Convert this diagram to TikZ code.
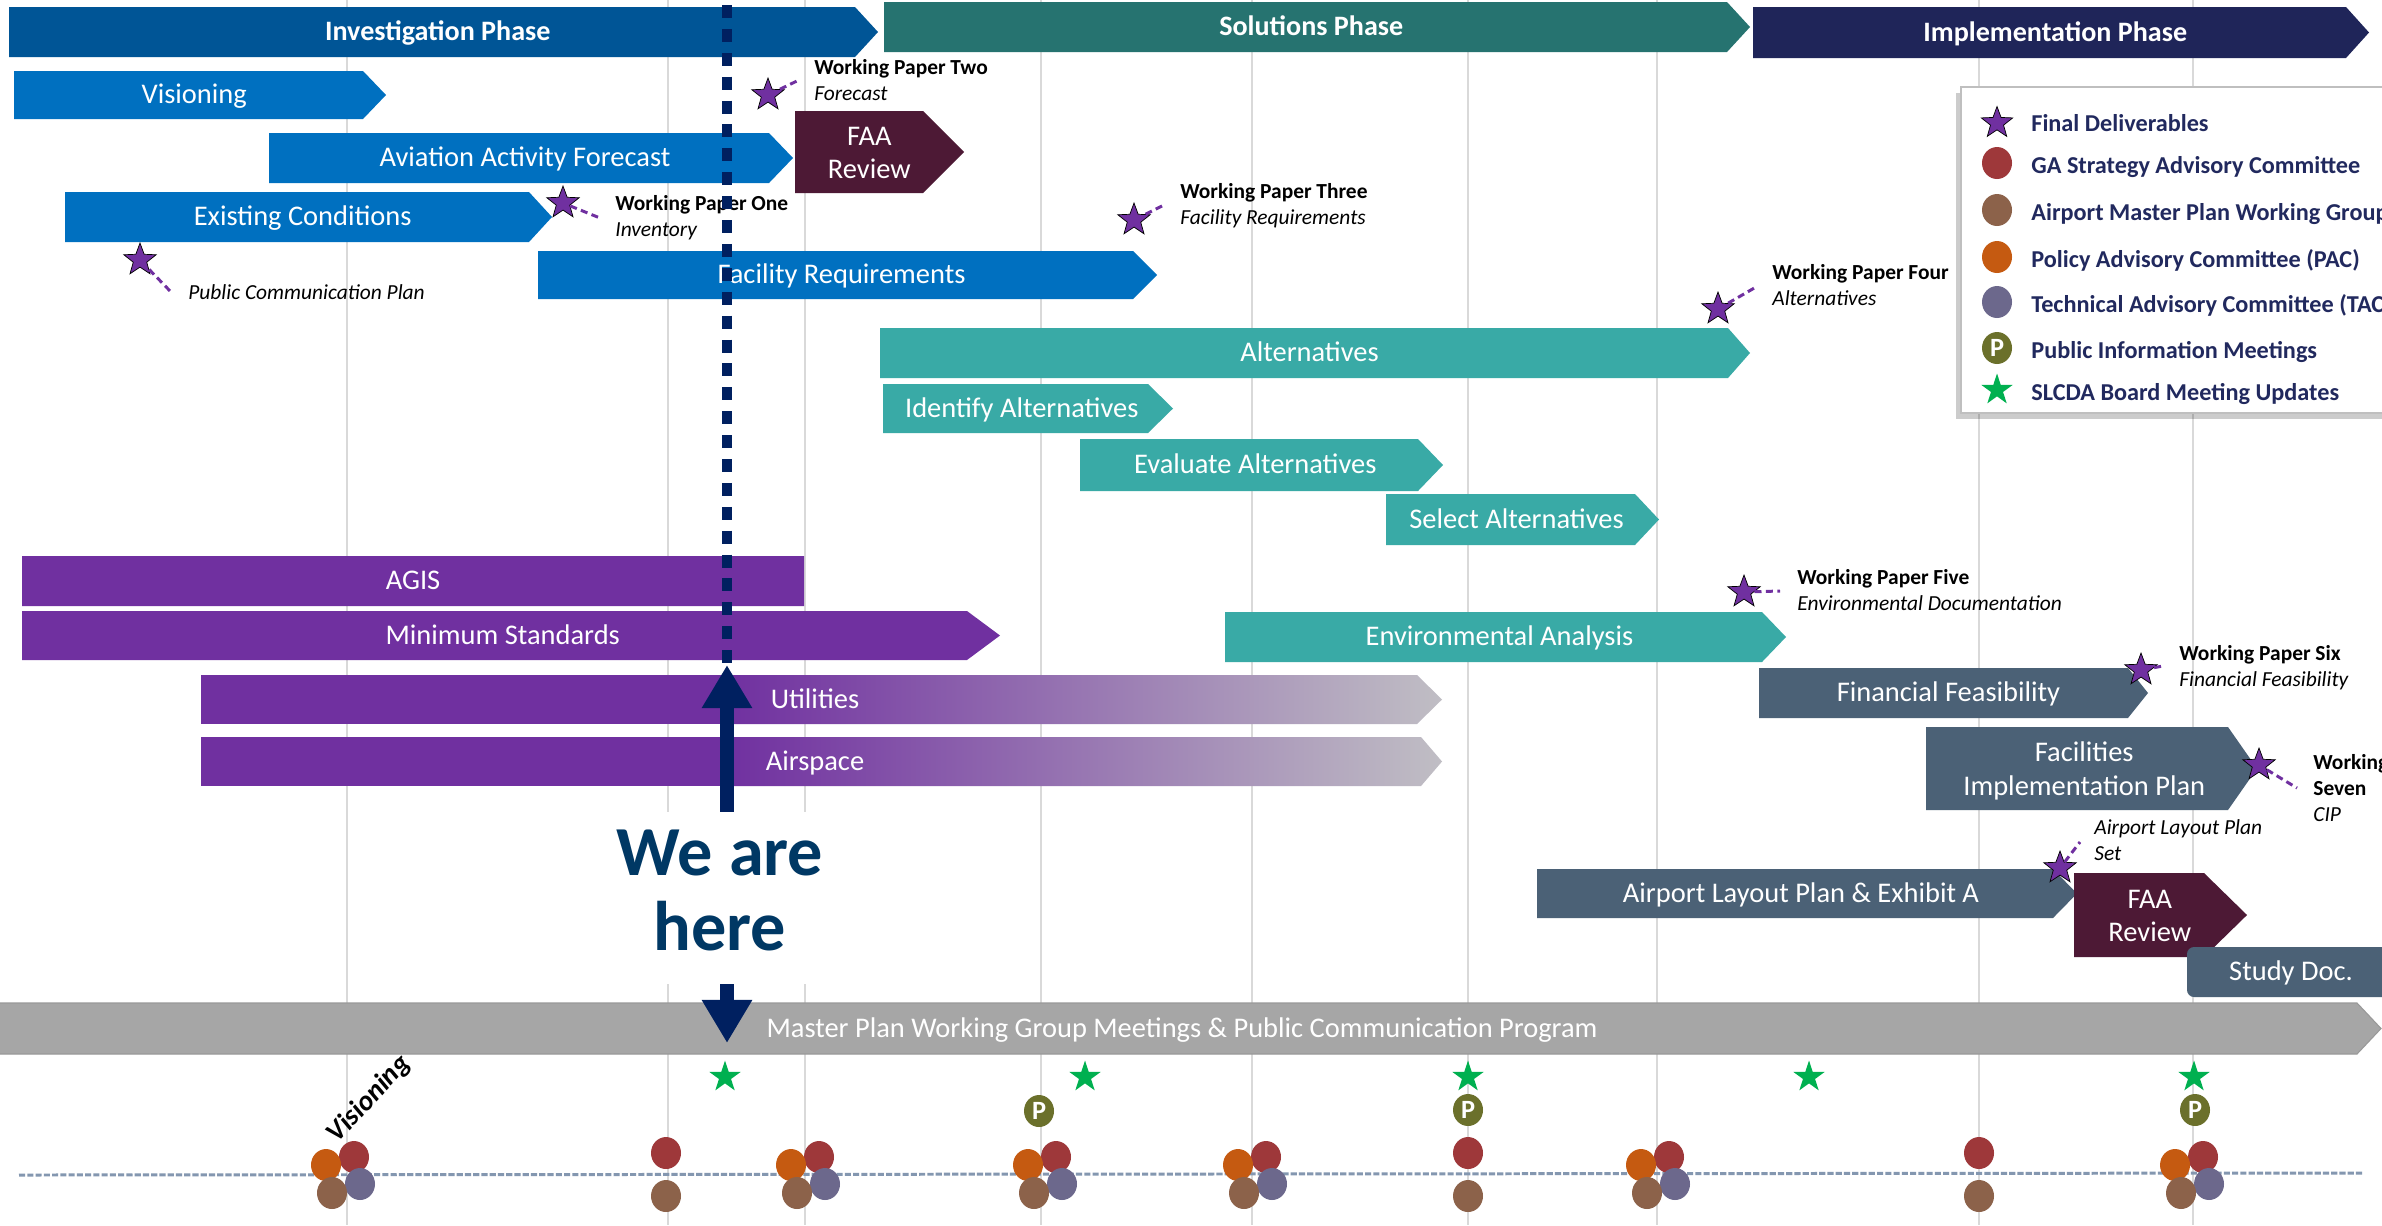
\documentclass[tikz,border=0pt]{standalone}
\usepackage{fontspec}
\setmainfont{Carlito}
\usetikzlibrary{shapes.geometric,arrows.meta}
\definecolor{invC}{RGB}{0,85,150}
\definecolor{solC}{RGB}{38,115,112}
\definecolor{impC}{RGB}{31,37,89}
\definecolor{blueC}{RGB}{0,112,192}
\definecolor{faaC}{RGB}{77,25,53}
\definecolor{tealC}{RGB}{57,170,166}
\definecolor{purC}{RGB}{112,48,160}
\definecolor{slateC}{RGB}{75,97,118}
\definecolor{mpC}{RGB}{166,166,166}
\definecolor{navyC}{RGB}{0,32,96}
\definecolor{hereC}{RGB}{0,56,100}
\definecolor{greenC}{RGB}{0,176,80}
\definecolor{gaC}{RGB}{158,56,58}
\definecolor{pacC}{RGB}{197,90,17}
\definecolor{ampC}{RGB}{140,98,74}
\definecolor{tacC}{RGB}{108,104,140}
\definecolor{pimC}{RGB}{107,112,43}
\definecolor{legC}{RGB}{33,41,94}
\definecolor{gridC}{RGB}{217,217,217}
\definecolor{dashC}{RGB}{132,151,176}
\definecolor{fadeC}{RGB}{192,190,196}
% name, fill style, x1, body end, tip x, y1, y2, text style, text
\newcommand\chev[9]{%
  \fill[#2] (#3,#6) -- (#4,#6) -- (#5,{(#6+#7)/2}) -- (#4,#7) -- (#3,#7) -- cycle;
  \node[#8] (#1) at ({(#3+(#4+#5)/2)/2},{(#6+#7)/2}) {#9};}
\newcommand\meetfour[2]{%
  \node[mtg,fill=gaC] (#1r) at (#2,1157) {};
  \node[mtg,fill=pacC] (#1o) at ({#2-28},1165) {};
  \node[mtg,fill=tacC] (#1t) at ({#2+6},1184) {};
  \node[mtg,fill=ampC] (#1b) at ({#2-22},1193) {};}
\newcommand\meettwo[2]{%
  \node[mtg,fill=gaC] (#1r) at (#2,1153) {};
  \node[mtg,fill=ampC] (#1b) at (#2,1196) {};}
\begin{document}
\begin{tikzpicture}[x=0.02cm,y=-0.02cm,
 bartext/.style={text=white,inner sep=0pt,font=\fontsize{16.2}{19.3}\selectfont,text height=13.4pt,text depth=3.2pt},
 phasetext/.style={text=white,inner sep=0pt,font=\bfseries\fontsize{16}{19.3}\selectfont,text height=13.4pt,text depth=3.2pt},
 bartwo/.style={text=white,inner sep=0pt,font=\fontsize{16.2}{19.3}\selectfont,yshift=-1.8pt},
 msl/.style={anchor=base west,inner sep=0pt,font=\fontsize{12.2}{14.7}\selectfont},
 mstar/.style={star,star points=5,star point ratio=2.4,fill=purC,draw=black,line width=0.4pt,minimum size=0.68cm,inner sep=0pt},
 gstar/.style={star,star points=5,star point ratio=2.6,fill=greenC,minimum size=0.66cm,inner sep=0pt},
 msline/.style={purC,line width=1.7pt,dash pattern=on 4pt off 2.5pt},
 mtg/.style={ellipse,minimum width=0.6cm,minimum height=0.64cm,inner sep=0pt},
 pcirc/.style={ellipse,fill=pimC,minimum width=0.6cm,minimum height=0.64cm,inner sep=0pt,text=white,font=\bfseries\fontsize{15}{15}\selectfont},
 legtext/.style={anchor=base west,inner sep=0pt,font=\bfseries\fontsize{13.8}{16}\selectfont,text=legC},
 gridline/.style={gridC,line width=0.8pt},
 bigarrow/.style={navyC,line width=8.5pt,-{Triangle[length=24.5pt,width=27pt]}}
]
\useasboundingbox (0,0) rectangle (2382,1225);
\clip (0,0) rectangle (2382,1225);
\fill[white] (0,0) rectangle (2382,1225);
\foreach \gx in {347,668,805,1041,1252,1468,1657,1979,2193}
  \draw[gridline] (\gx,0) -- (\gx,1225);
% meeting time line
\coordinate (mlA) at (19,1175);
\coordinate (mlB) at (2364,1173);
\draw[dashC,line width=1.7pt,dash pattern=on 3.5pt off 1.2pt] (mlA) -- (mlB);
% phases
\chev{inv}{invC}{9}{855}{878}{7}{57}{phasetext}{Investigation Phase}
\chev{sol}{solC}{884}{1727}{1750}{2}{52}{phasetext}{Solutions Phase}
\chev{imp}{impC}{1753}{2346}{2369}{7}{58}{phasetext}{Implementation Phase}
% tasks
\chev{vis}{blueC}{14}{363}{386}{71}{119}{bartext}{Visioning}
\chev{aaf}{blueC}{269}{769}{793}{133}{183}{bartext}{Aviation Activity Forecast}
\chev{faaA}{faaC}{795}{923}{964}{111}{193}{bartwo}{\begin{tabular}{@{}c@{}}FAA\\Review\end{tabular}}
\chev{exc}{blueC}{65}{529}{552}{192}{242}{bartext}{Existing Conditions}
\chev{fac}{blueC}{538}{1133}{1157}{251}{299}{bartext}{Facility Requirements}
\chev{alt}{tealC}{880}{1728}{1750}{328}{378}{bartext}{Alternatives}
\chev{ida}{tealC}{883}{1148}{1173}{384}{433}{bartext}{Identify Alternatives}
\chev{eva}{tealC}{1080}{1418}{1443}{439}{491}{bartext}{Evaluate Alternatives}
\chev{sea}{tealC}{1386}{1635}{1659}{494}{545}{bartext}{Select Alternatives}
\chev{agis}{purC}{22}{804}{804}{556}{606}{bartext}{AGIS}
\chev{mst}{purC}{22}{967}{1000}{611}{660}{bartext}{Minimum Standards}
% fading bars
\fill[purC] (201,675) rectangle (730,724);
\shade[left color=purC,right color=fadeC] (727,675) -- (1417,675) -- (1442,699.5) -- (1417,724) -- (727,724) -- cycle;
\node[bartext] (uti) at (815,699.5) {Utilities};
\fill[purC] (201,737) rectangle (730,786);
\shade[left color=purC,right color=fadeC] (727,737) -- (1421,737) -- (1442,761.5) -- (1421,786) -- (727,786) -- cycle;
\node[bartext] (asp) at (815,761.5) {Airspace};
\chev{env}{tealC}{1225}{1762}{1786}{612}{662}{bartext}{Environmental Analysis}
\chev{fin}{slateC}{1759}{2128}{2148}{668}{718}{bartext}{Financial Feasibility}
\chev{fip}{slateC}{1926}{2228}{2257}{727}{810}{bartwo}{\begin{tabular}{@{}c@{}}Facilities\\Implementation Plan\end{tabular}}
\chev{alp}{slateC}{1537}{2053}{2077}{869}{918}{bartext}{Airport Layout Plan \& Exhibit A}
\chev{faaB}{faaC}{2074}{2204}{2247}{873}{957}{bartwo}{\begin{tabular}{@{}c@{}}FAA\\Review\end{tabular}}
\fill[slateC,rounded corners=4pt] (2187,947) rectangle (2400,997);
\node[bartext] (sdoc) at (2291,972) {Study Doc.};
\chev{mpw}{mpC,draw=black!40,line width=0.6pt}{-5}{2357}{2381}{1003}{1054}{bartext}{Master Plan Working Group Meetings \& Public Communication Program}
% legend
\fill[black,opacity=0.2] (1956,93) rectangle (2400,419);
\filldraw[fill=white,draw=black!25,line width=0.8pt] (1961,87) rectangle (2400,413);
\node[mstar,minimum size=0.66cm] (lgA) at (1997,123) {};
\node[legtext] (ltA) at (2031,131) {Final Deliverables};
\node[mtg,fill=gaC] (lgB) at (1997,163) {};
\node[legtext] (ltB) at (2031,173) {GA Strategy Advisory Committee};
\node[mtg,fill=ampC] (lgC) at (1997,210) {};
\node[legtext] (ltC) at (2031,220) {Airport Master Plan Working Group};
\node[mtg,fill=pacC] (lgD) at (1997,257) {};
\node[legtext] (ltD) at (2031,267) {Policy Advisory Committee (PAC)};
\node[mtg,fill=tacC] (lgE) at (1997,302) {};
\node[legtext] (ltE) at (2031,312) {Technical Advisory Committee (TAC)};
\node[pcirc] (lgF) at (1997,348) {P};
\node[legtext] (ltF) at (2031,358) {Public Information Meetings};
\node[gstar] (lgG) at (1997,390) {};
\node[legtext] (ltG) at (2031,400) {SLCDA Board Meeting Updates};
% deliverables
\node[mstar] (s0) at (140,260) {};
\coordinate (e0) at (172,293);
\draw[msline] (s0) -- (e0);
\node[msl] (l0) at (188,299.5) {\textit{Public Communication Plan}};
\node[mstar] (s1) at (563,203) {};
\coordinate (e1) at (600,218);
\draw[msline] (s1) -- (e1);
\node[msl] (l1) at (615,210.5) {\begin{tabular}[t]{@{}l@{}}\textbf{Working Paper One}\\\textit{Inventory}\end{tabular}};
\node[mstar] (s2) at (768,95) {};
\coordinate (e2) at (799,80);
\draw[msline] (s2) -- (e2);
\node[msl] (l2) at (814,74.5) {\begin{tabular}[t]{@{}l@{}}\textbf{Working Paper Two}\\\textit{Forecast}\end{tabular}};
\node[mstar] (s3) at (1134,220) {};
\coordinate (e3) at (1164,205);
\draw[msline] (s3) -- (e3);
\node[msl] (l3) at (1180,198.5) {\begin{tabular}[t]{@{}l@{}}\textbf{Working Paper Three}\\\textit{Facility Requirements}\end{tabular}};
\node[mstar] (s4) at (1718,309) {};
\coordinate (e4) at (1756,287);
\draw[msline] (s4) -- (e4);
\node[msl] (l4) at (1772,279.5) {\begin{tabular}[t]{@{}l@{}}\textbf{Working Paper Four}\\\textit{Alternatives}\end{tabular}};
\node[mstar] (s5) at (1744,592) {};
\coordinate (e5) at (1780,591);
\draw[msline] (s5) -- (e5);
\node[msl] (l5) at (1797,584.5) {\begin{tabular}[t]{@{}l@{}}\textbf{Working Paper Five}\\\textit{Environmental Documentation}\end{tabular}};
\node[mstar] (s6) at (2141,670) {};
\coordinate (e6) at (2163,666);
\draw[msline] (s6) -- (e6);
\node[msl] (l6) at (2179,660.5) {\begin{tabular}[t]{@{}l@{}}\textbf{Working Paper Six}\\\textit{Financial Feasibility}\end{tabular}};
\node[mstar] (s7) at (2259,765) {};
\coordinate (e7) at (2297,788);
\draw[msline] (s7) -- (e7);
\node[msl] (l7) at (2313,769.5) {\begin{tabular}[t]{@{}l@{}}\textbf{Working Paper}\\\textbf{Seven}\\\textit{CIP}\end{tabular}};
\node[mstar] (s8) at (2060,868) {};
\coordinate (e8) at (2080,842);
\draw[msline] (s8) -- (e8);
\node[msl] (l8) at (2094,834.5) {\begin{tabular}[t]{@{}l@{}}\textit{Airport Layout Plan}\\\textit{Set}\end{tabular}};
% we are here
\coordinate (dtop) at (727,5);
\coordinate (atip) at (727,665);
\coordinate (btip) at (727,1043);
\draw[navyC,line width=6.2pt,dash pattern=on 7.4pt off 6.2pt] (dtop) -- (atip);
\node[fill=white,minimum width=4.8cm,minimum height=3.44cm,inner sep=0pt,text=hereC,font=\bfseries\fontsize{40}{42.5}\selectfont] (here) at (720,898) {\begin{tabular}{@{}c@{}}We are\\here\end{tabular}};
\draw[bigarrow] (here.north -| atip) -- (atip);
\draw[bigarrow] (here.south -| btip) -- (btip);
% board updates and public meetings
\node[gstar] (g1) at (725,1077) {};
\node[gstar] (g2) at (1085,1077) {};
\node[gstar] (g3) at (1468,1077) {};
\node[gstar] (g4) at (1809,1077) {};
\node[gstar] (g5) at (2194,1077) {};
\node[pcirc] (p1) at (1039,1111) {P};
\node[pcirc] (p2) at (1468,1110) {P};
\node[pcirc] (p3) at (2195,1110) {P};
% committee meetings
\meetfour{mA}{354}
\meettwo{mB}{666}
\meetfour{mC}{819}
\meetfour{mD}{1056}
\meetfour{mE}{1266}
\meettwo{mF}{1468}
\meetfour{mG}{1669}
\meettwo{mH}{1979}
\meetfour{mI}{2203}
\node[rotate=47,inner sep=0pt,font=\bfseries\itshape\fontsize{16}{18}\selectfont] (vlab) at (369,1099) {Visioning};
\end{tikzpicture}
\end{document}
